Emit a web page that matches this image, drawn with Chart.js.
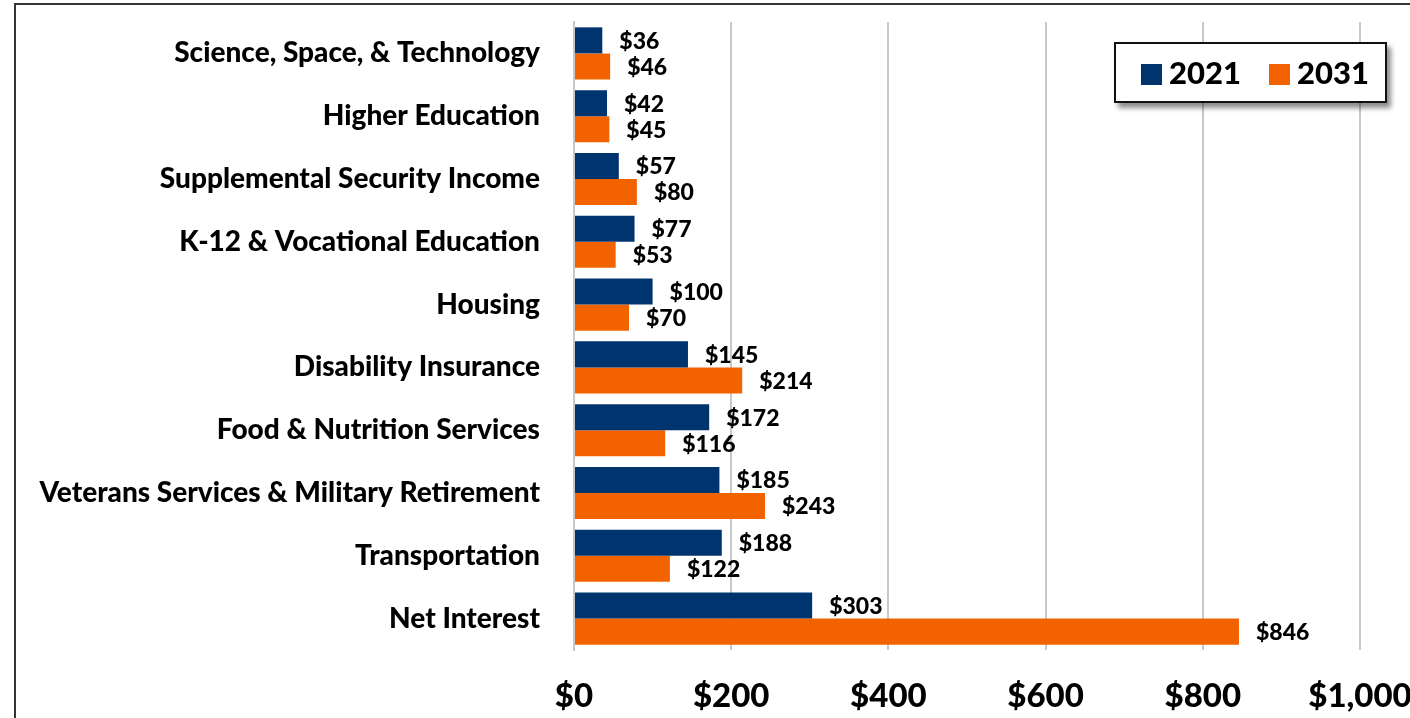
<!DOCTYPE html>
<html>
<head>
<meta charset="utf-8">
<script src="https://cdn.jsdelivr.net/npm/chart.js@4/dist/chart.umd.min.js"></script>
<style>
    html, body { margin: 0; padding: 0; background: #fff; overflow: hidden; }
    #wrap { position: relative; width: 1410px; height: 718px; }
    #frame { position: absolute; left: 14px; top: 3px; width: 1500px; height: 800px;
             border-left: 2px solid #333; border-top: 2px solid #333; }
    #myChart { position: absolute; left: 0; top: 0; }
    #legend { position: absolute; left: 1114px; top: 42px; width: 269px; height: 57px;
              border: 2px solid #111; background: #fff; box-shadow: 4px 5px 5px rgba(0,0,0,0.45);
              font-family: Lato, sans-serif; font-weight: 900; font-size: 31px; color: #000; }
    .item { position: absolute; top: 8px; line-height: 40px; }
    .sw { display: inline-block; width: 21px; height: 21px; margin-right: 7px; vertical-align: -1px; }
</style>
</head>
<body>
<div id="wrap">
    <div id="frame"></div>
    <canvas id="myChart" width="1410" height="718"></canvas>
    <div id="legend"></div>
</div>
<script>
const categories = [
    'Science, Space, & Technology',
    'Higher Education',
    'Supplemental Security Income',
    'K-12 & Vocational Education',
    'Housing',
    'Disability Insurance',
    'Food & Nutrition Services',
    'Veterans Services & Military Retirement',
    'Transportation',
    'Net Interest'
];
const values2021 = [36, 42, 57, 77, 100, 145, 172, 185, 188, 303];
const values2031 = [46, 45, 80, 53, 70, 214, 116, 243, 122, 846];
const xTicks = [0, 200, 400, 600, 800, 1000];

const blue = '#00346F';
const orange = '#F26300';

// légende en HTML, placée dans la zone du graphique
const legendEl = document.getElementById('legend');
[['2021', blue, 25], ['2031', orange, 153]].forEach(([label, color, left]) => {
    const div = document.createElement('div');
    div.className = 'item';
    div.style.left = left + 'px';
    div.innerHTML = '<span class="sw" style="background:' + color + '"></span>' + label;
    legendEl.appendChild(div);
});

const valueLabels = {
    id: 'valueLabels',
    afterDatasetsDraw(chart) {
        const ctx = chart.ctx;
        ctx.save();
        ctx.font = '900 23px Lato';
        ctx.fillStyle = '#000';
        ctx.textBaseline = 'middle';
        ctx.textAlign = 'left';
        chart.data.datasets.forEach((ds, i) => {
            chart.getDatasetMeta(i).data.forEach((bar, j) => {
                ctx.fillText('$' + ds.data[j], bar.x + 17, bar.y + 1);
            });
        });
        ctx.restore();
    }
};

const ctx = document.getElementById('myChart').getContext('2d');
new Chart(ctx, {
    type: 'bar',
    data: {
        labels: categories,
        datasets: [
            { label: '2021', data: values2021, backgroundColor: blue,
              categoryPercentage: 0.83, barPercentage: 1.0 },
            { label: '2031', data: values2031, backgroundColor: orange,
              categoryPercentage: 0.83, barPercentage: 1.0 }
        ]
    },
    options: {
        indexAxis: 'y',
        responsive: false,
        animation: false,
        layout: { padding: { left: 0, right: 50, top: 22, bottom: 0 } },
        plugins: {
            legend: { display: false },
            tooltip: { enabled: false }
        },
        scales: {
            x: {
                min: 0,
                max: 1000,
                afterBuildTicks: axis => { axis.ticks = xTicks.map(v => ({ value: v })); },
                afterFit: axis => {
                    axis.height = 68;
                    axis.paddingLeft = 0;
                    axis.paddingRight = 0;
                },
                grid: { color: '#c8c8c8', lineWidth: 2, drawTicks: false },
                border: { display: false },
                ticks: {
                    padding: 27,
                    color: '#000',
                    font: { family: 'Lato', weight: '900', size: 33 },
                    callback: v => '$' + v.toLocaleString('en-US')
                }
            },
            y: {
                afterFit: axis => {
                    axis.width = 574;
                    axis.paddingTop = 0;
                    axis.paddingBottom = 0;
                },
                grid: { display: false, drawTicks: false },
                border: { color: '#c8c8c8', width: 2 },
                ticks: {
                    padding: 34,
                    color: '#000',
                    font: { family: 'Lato', weight: '900', size: 28 }
                }
            }
        }
    },
    plugins: [valueLabels]
});
</script>
</body>
</html>
